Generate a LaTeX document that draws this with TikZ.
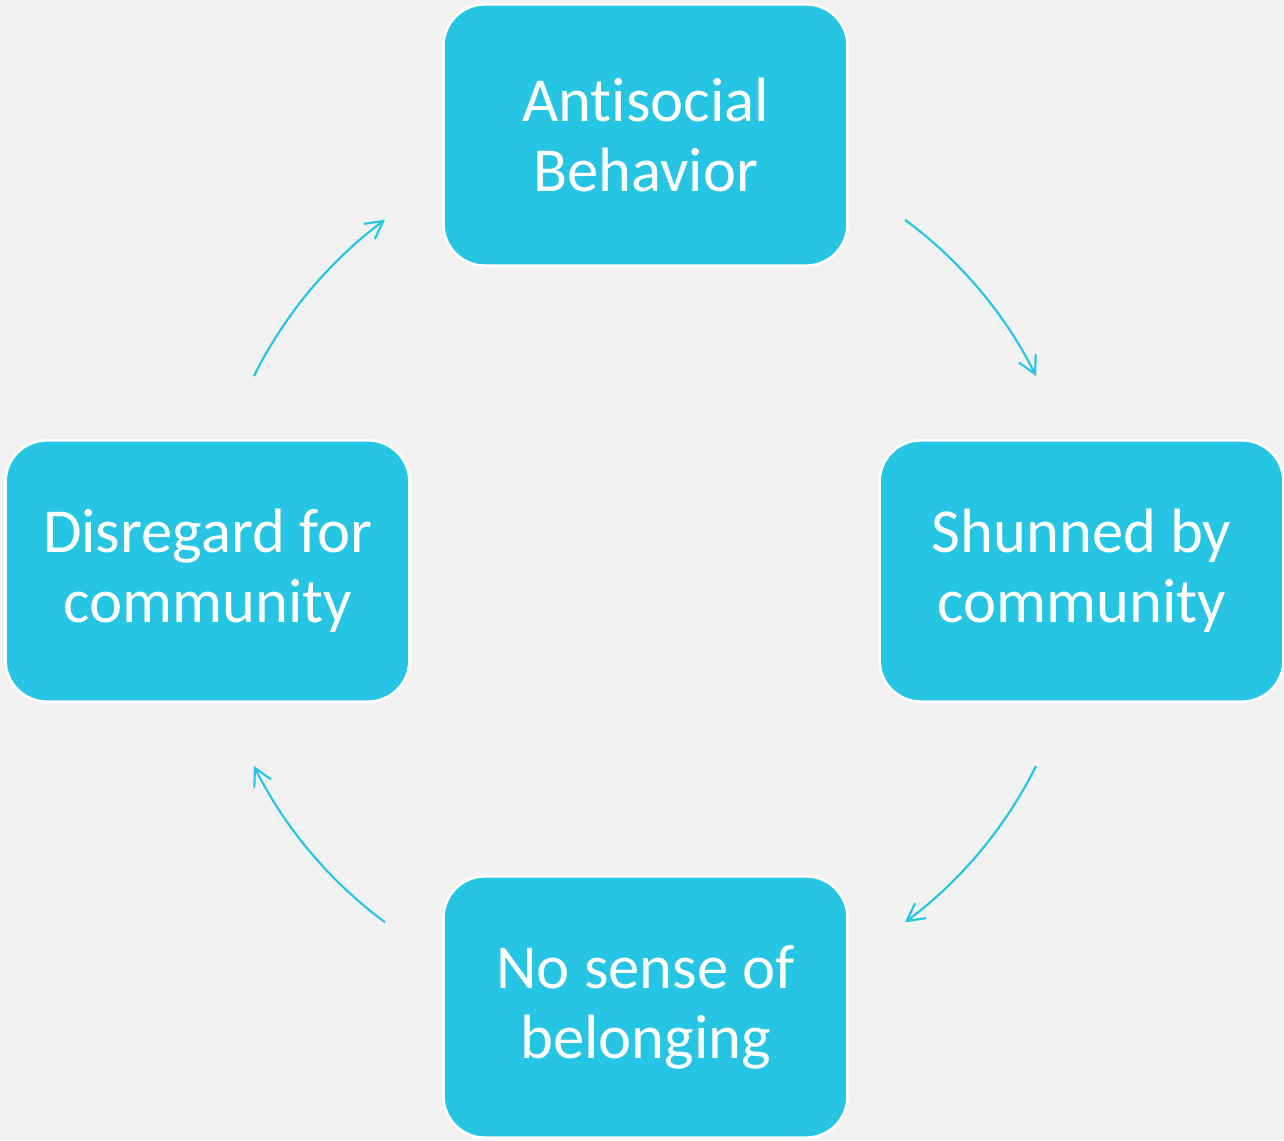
\documentclass[tikz,border=0pt]{standalone}
\usepackage{fontspec}
\setmainfont{Carlito}[Ligatures=NoCommon, RawFeature=-liga]
\usepackage{tikz}
\usetikzlibrary{arrows.meta, calc, positioning}

\definecolor{cyanbox}{HTML}{25C5E3}
\definecolor{pagebg}{HTML}{F2F2F2}

\begin{document}
\begin{tikzpicture}[x=0.75pt, y=0.75pt,
    >={Straight Barb[length=13pt, width=14pt]},
    stage/.style={draw=white, line width=2pt, fill=cyanbox, rounded corners=31pt,
      minimum width=303pt, minimum height=196pt, text=white, align=center,
      font=\fontsize{47}{52.5}\selectfont},
    cycle/.style={->, draw=cyanbox, line width=1.6pt}]
    \fill[pagebg] (0,0) rectangle (1284,1140);
    \useasboundingbox (0,0) rectangle (1284,1140);

    \path (645,569) coordinate (hub);

    \node[stage] (antisocial) at (645.5,1005) {Antisocial\\Behavior};
    \node[stage] (shunned) at (1081.5,569) {Shunned by\\community};
    \node[stage] (belonging) at (645.5,133) {No sense of\\belonging};
    \node[stage] (disregard) at (207.5,569) {Disregard for\\community};

    % arcs round the hub
    \draw[cycle] ($(hub)+(53.5:437)$) arc[start angle=53.5, end angle=26.5, radius=437];
    \draw[cycle] ($(hub)+(-26.5:437)$) arc[start angle=-26.5, end angle=-53.5, radius=437];
    \draw[cycle] ($(hub)+(-126.5:437)$) arc[start angle=-126.5, end angle=-153.5, radius=437];
    \draw[cycle] ($(hub)+(153.5:437)$) arc[start angle=153.5, end angle=126.5, radius=437];
\end{tikzpicture}
\end{document}
